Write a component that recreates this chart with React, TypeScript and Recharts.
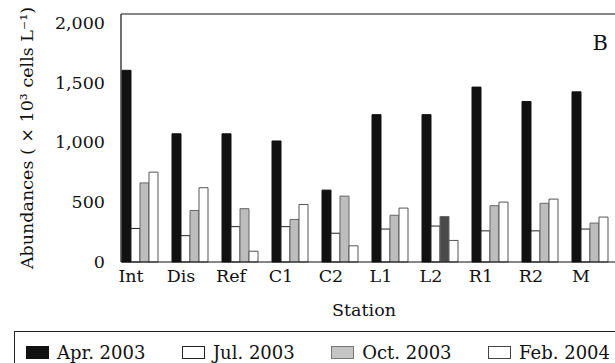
import { BarChart, Bar, XAxis, YAxis, Legend, ReferenceLine, Label, Cell } from 'recharts';

// stations along the x axis
const stations = ['Int', 'Dis', 'Ref', 'C1', 'C2', 'L1', 'L2', 'R1', 'R2', 'M'];

// abundances (x 10^3 cells L-1) per sampling date
const apr2003 = [1600, 1070, 1070, 1010, 600, 1230, 1230, 1460, 1340, 1420];
const jul2003 = [280, 220, 295, 295, 240, 275, 300, 260, 260, 275];
const oct2003 = [660, 430, 445, 355, 550, 390, 380, 470, 490, 325];
const feb2004 = [750, 620, 90, 480, 135, 450, 180, 500, 525, 375];

const yTicks = [0, 500, 1000, 1500, 2000];

const serif = 'DejaVu Serif, serif';

const data = stations.map((name, i) => ({
    name,
    apr: apr2003[i],
    jul: jul2003[i],
    oct: oct2003[i],
    feb: feb2004[i],
}));

const legendItems = [
    { label: 'Apr. 2003', swatch: { background: '#111', border: '1px solid #111' } },
    { label: 'Jul. 2003', swatch: { background: '#fff', border: '1px solid #222' } },
    { label: 'Oct. 2003', swatch: { background: '#c4c4c4', border: '1px solid #777' } },
    { label: 'Feb. 2004', swatch: { background: '#fff', border: '1px solid #444' } },
];

function LegendBox() {
    return (
        <div style={{
            borderTop: '1px solid #222', borderLeft: '1px solid #222', height: 42, width: 620,
            display: 'flex', alignItems: 'center', paddingLeft: 11,
            fontFamily: serif, fontSize: 18, color: '#111', boxSizing: 'border-box', whiteSpace: 'nowrap',
        }}>
            {legendItems.map(item => (
                <div key={item.label} style={{ display: 'flex', alignItems: 'center', marginRight: 36.5, flexShrink: 0 }}>
                    <span style={{ display: 'inline-block', width: 21, height: 11, marginRight: 8, ...item.swatch }} />
                    <span>{item.label}</span>
                </div>
            ))}
        </div>
    );
}

const textStyle = { fontFamily: serif };

export default function App() {
    return (
        <div style={{ position: 'absolute', left: 0, top: 0, width: 615, height: 363, overflow: 'hidden', background: '#fff', fontFamily: serif }}>
            <BarChart
                width={615}
                height={363}
                data={data}
                margin={{ top: 14, right: 0, bottom: 41, left: 0 }}
                barGap={0}
                style={{ fontFamily: serif }}
            >
                <XAxis
                    dataKey="name"
                    height={60}
                    padding={{ left: -6, right: 0 }}
                    tickLine={false}
                    tickSize={0}
                    tickMargin={8}
                    axisLine={{ stroke: '#111', strokeWidth: 1.2 }}
                    tick={{ fill: '#111', fontSize: 17.5, fontFamily: serif, dx: -9 }}
                    interval={0}
                >
                    <Label value="Station" position="insideBottom" offset={6} dx={-4} fill="#111" fontSize={17.5} style={textStyle} />
                </XAxis>
                <YAxis
                    width={121}
                    domain={[0, 2070]}
                    ticks={yTicks}
                    tickLine={false}
                    tickSize={0}
                    tickMargin={16}
                    axisLine={{ stroke: '#111', strokeWidth: 1.2 }}
                    tick={{ fill: '#111', fontSize: 17.5, fontFamily: serif }}
                    tickFormatter={(v: number) => v.toLocaleString('en-US')}
                >
                    <Label
                        value="Abundances ( × 10³ cells L⁻¹)"
                        angle={-90}
                        position="insideLeft"
                        offset={27}
                        fill="#111"
                        fontSize={17.5}
                        style={{ textAnchor: 'middle', fontFamily: serif }}
                    />
                </YAxis>
                <ReferenceLine y={2070} stroke="#111" strokeWidth={1.2}>
                    <Label value="B" position="insideTopRight" offset={21} dx={14} fill="#111" fontSize={21} style={textStyle} />
                </ReferenceLine>
                <Legend
                    layout="horizontal"
                    verticalAlign="middle"
                    content={() => <LegendBox />}
                    wrapperStyle={{ top: 331, left: 14, width: 620, height: 42 }}
                />
                <Bar dataKey="apr" name="Apr. 2003" barSize={9} fill="#111" stroke="#111" isAnimationActive={false} />
                <Bar dataKey="jul" name="Jul. 2003" barSize={9} fill="#fff" stroke="#222" isAnimationActive={false} />
                <Bar dataKey="oct" name="Oct. 2003" barSize={9} fill="#bdbdbd" stroke="#666" isAnimationActive={false}>
                    {stations.map(s => (
                        <Cell key={s} fill={s === 'L2' ? '#4a4a4a' : '#bdbdbd'} />
                    ))}
                </Bar>
                <Bar dataKey="feb" name="Feb. 2004" barSize={9} fill="#fff" stroke="#555" isAnimationActive={false} />
            </BarChart>
        </div>
    );
}
